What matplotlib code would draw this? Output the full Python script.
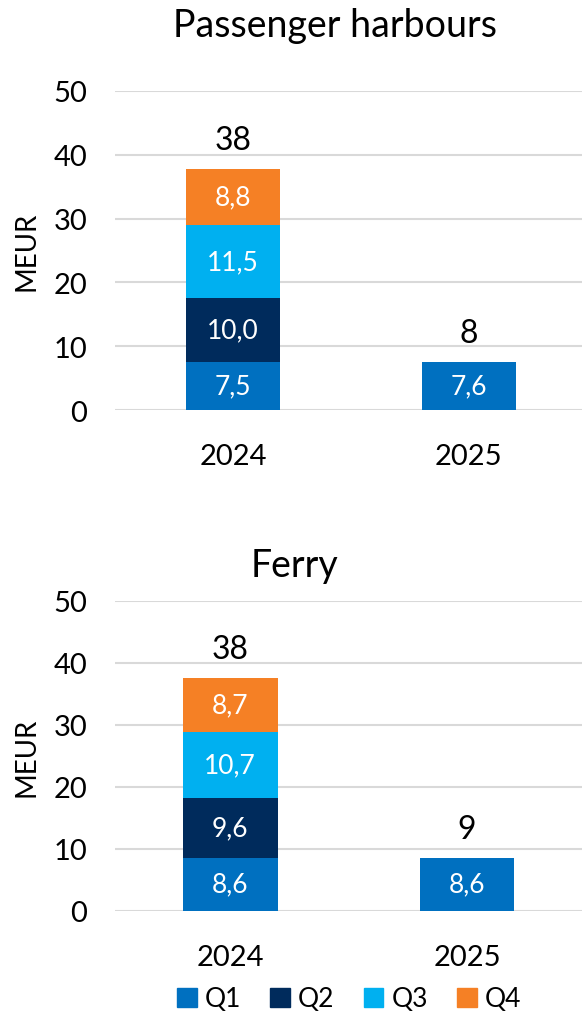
import numpy as np
import matplotlib
matplotlib.use("Agg")
from matplotlib import pyplot as plt
from matplotlib.patches import Patch

plt.rcParams['font.family'] = ['Lato', 'DejaVu Sans']

years = ["2024", "2025"]
quarters = ["Q1", "Q2", "Q3", "Q4"]
colors = ["#0070C0", "#002B5C", "#00B0F0", "#F58025"]

# quarterly values, MEUR (missing quarters as 0)
harbour_vals = [[7.5, 7.6], [10.0, 0], [11.5, 0], [8.8, 0]]
ferry_vals = [[8.6, 8.6], [9.6, 0], [10.7, 0], [8.7, 0]]
harbour_totals = [38, 8]
ferry_totals = [38, 9]


def draw(ax, vals, totals, xlim):
    x = np.arange(len(years))
    bottom = np.zeros(len(years))
    for q, c, v in zip(quarters, colors, vals):
        v = np.array(v, dtype=float)
        ax.bar(x, v, 0.40, bottom=bottom, color=c, zorder=3)
        for xi, vi, bi in zip(x, v, bottom):
            if vi > 0:
                ax.text(xi, bi + vi / 2, f"{vi:.1f}".replace(".", ","), ha="center", va="center",
                        color="white", fontsize=19, zorder=4)
        bottom += v
    for xi, t, b in zip(x, totals, bottom):
        ax.annotate(str(t), (xi, b), xytext=(0, 10), textcoords="offset points",
                    ha="center", va="bottom", fontsize=23)
    ax.set_ylim(0, 50)
    ax.set_yticks([0, 10, 20, 30, 40, 50])
    ax.set_xlim(*xlim)
    ax.set_xticks(x)
    ax.set_xticklabels(years)
    ax.grid(axis="y", color="#D9D9D9", linewidth=1.5, zorder=0)
    for s in ax.spines.values():
        s.set_visible(False)
    ax.tick_params(axis="both", length=0, labelsize=21)
    ax.tick_params(axis="x", pad=24)
    ax.tick_params(axis="y", pad=20)
    ax.set_ylabel("MEUR", fontsize=20, labelpad=10)


fig = plt.figure(figsize=(5.82, 10.2), dpi=100)
ax1 = fig.add_axes([0.198, 0.597, 0.802, 0.313])
ax2 = fig.add_axes([0.198, 0.106, 0.802, 0.304])

draw(ax1, harbour_vals, harbour_totals, (-0.5, 1.48))
draw(ax2, ferry_vals, ferry_totals, (-0.485, 1.485))

fig.text(335 / 582, 1 - 26 / 1020, "Passenger harbours", ha="center", va="center", fontsize=27)
fig.text(295 / 582, 1 - 566 / 1020, "Ferry", ha="center", va="center", fontsize=27)

handles = [Patch(color=c, label=q) for q, c in zip(quarters, colors)]
fig.legend(handles=handles, loc="center", bbox_to_anchor=(0.60, 1 - 1000 / 1020), ncol=4,
           frameon=False, fontsize=19, handlelength=0.75, handleheight=0.75,
           handletextpad=0.3, columnspacing=1.1)

fig.savefig("out.png", dpi=100)
